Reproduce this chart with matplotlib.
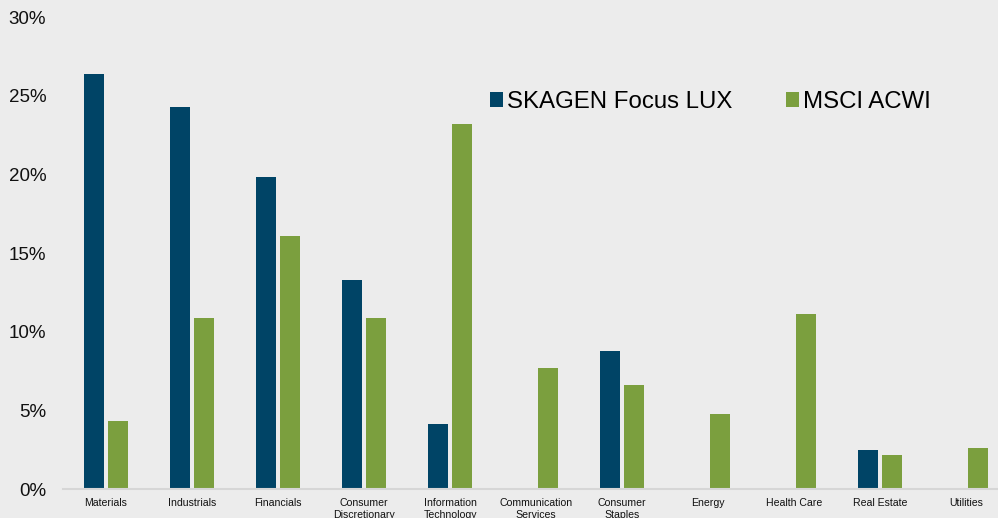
import numpy as np
import matplotlib

matplotlib.use("Agg")
from matplotlib import pyplot as plt

# Sector weights, SKAGEN Focus LUX vs MSCI ACWI (percent)
sectors = [
    "Materials",
    "Industrials",
    "Financials",
    "Consumer\nDiscretionary",
    "Information\nTechnology",
    "Communication\nServices",
    "Consumer\nStaples",
    "Energy",
    "Health Care",
    "Real Estate",
    "Utilities",
]
skagen = [26.4, 24.3, 19.8, 13.3, 4.1, 0.0, 8.8, 0.0, 0.0, 2.5, 0.0]
msci = [4.3, 10.9, 16.1, 10.9, 23.2, 7.7, 6.6, 4.75, 11.1, 2.15, 2.6]
yticks = [0, 5, 10, 15, 20, 25, 30]

BLUE = "#004466"
GREEN = "#7b9f3e"
BG = "#ececec"

plt.rcParams["font.family"] = ["Liberation Sans", "DejaVu Sans"]

fig = plt.figure(figsize=(9.98, 5.18), dpi=100, facecolor=BG)
ax = fig.add_axes([63 / 998, 29 / 518, 946 / 998, 472 / 518])
ax.set_facecolor(BG)

x = np.arange(len(sectors))
w = 0.235
off = 0.14
ax.bar(x - off, skagen, w, color=BLUE, label="SKAGEN Focus LUX")
ax.bar(x + off, msci, w, color=GREEN, label="MSCI ACWI")

ax.set_xlim(-0.5, len(sectors) - 0.5)
ax.set_ylim(0, 30)
ax.set_yticks(yticks)
ax.set_yticklabels([f"{t}%" for t in yticks], fontsize=13.5, color="#111111")
ax.set_xticks(x)
ax.set_xticklabels(sectors, fontsize=7.6, color="#111111", linespacing=1.2)
ax.tick_params(axis="both", length=0)
ax.tick_params(axis="y", pad=12)
ax.tick_params(axis="x", pad=6.5)

for s in ["top", "right", "left"]:
    ax.spines[s].set_visible(False)
ax.spines["bottom"].set_color("#d6d6d6")
ax.spines["bottom"].set_linewidth(1.5)

ax.legend(
    loc="center left",
    bbox_to_anchor=(468 / 998, 1 - 102 / 518),
    bbox_transform=fig.transFigure,
    ncol=2,
    frameon=False,
    fontsize=17.3,
    handlelength=0.54,
    handleheight=0.54,
    handletextpad=0.2,
    columnspacing=2.2,
)

fig.savefig("out.png", dpi=100, facecolor=BG)
